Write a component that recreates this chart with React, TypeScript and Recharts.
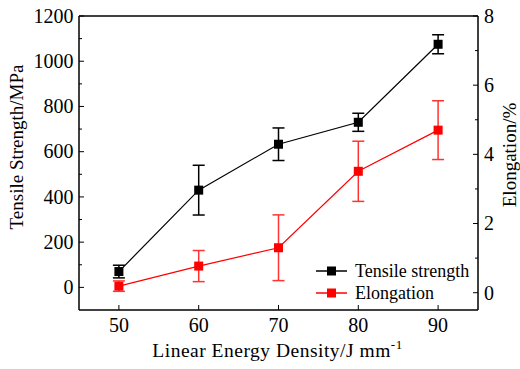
import React from 'react';
import { LineChart, Line, XAxis, YAxis, ErrorBar, ReferenceLine, Legend, Label } from 'recharts';

const energyDensity = [50, 60, 70, 80, 90];
const tensileStrength = [70, 430, 633, 730, 1075];
const tensileError = [28, 110, 72, 40, 42];
const elongation = [0.19, 0.77, 1.3, 3.51, 4.7];
const elongationError = [0.15, 0.45, 0.95, 0.87, 0.85];

const xTicks = [50, 60, 70, 80, 90];
const leftTicks = [0, 100, 200, 300, 400, 500, 600, 700, 800, 900, 1000, 1100, 1200];
const rightTicks = [0, 1, 2, 3, 4, 5, 6, 7, 8];

const data = energyDensity.map((x, i) => ({
  x,
  ts: tensileStrength[i],
  tsErr: tensileError[i],
  el: elongation[i],
  elErr: elongationError[i],
}));

const FONT = '"Liberation Serif", "Times New Roman", serif';
const RED = '#ff0000';
const RED_ERR = '#ff3333';

const LEFT_MARGIN = 6;
const RIGHT_MARGIN = 6;

const LeftTick = (props: any) => {
  const { x, y, payload } = props;
  const v = payload.value;
  const major = v % 200 === 0;
  const ax = x + LEFT_MARGIN;
  return (
    <g>
      <line x1={ax} x2={ax + (major ? 5 : 3)} y1={y} y2={y} stroke="#000" strokeWidth={1} />
      {major && (
        <text x={x + 0.5} y={y} dy="0.34em" textAnchor="end" style={{ fontFamily: FONT, fontSize: 20 }} fill="#000">
          {v}
        </text>
      )}
    </g>
  );
};

const RightTick = (props: any) => {
  const { x, y, payload } = props;
  const v = payload.value;
  const major = v % 2 === 0;
  const ax = x - RIGHT_MARGIN;
  return (
    <g>
      <line x1={ax} x2={ax - (major ? 5 : 3)} y1={y} y2={y} stroke="#000" strokeWidth={1} />
      {major && (
        <text x={x} y={y} dy="0.34em" textAnchor="start" style={{ fontFamily: FONT, fontSize: 20 }} fill="#000">
          {v}
        </text>
      )}
    </g>
  );
};

const BottomTick = (props: any) => {
  const { x, y, payload } = props;
  return (
    <g>
      <line x1={x} x2={x} y1={y} y2={y - 5} stroke="#000" strokeWidth={1} />
      <text x={x} y={y + 22} textAnchor="middle" style={{ fontFamily: FONT, fontSize: 20 }} fill="#000">
        {payload.value}
      </text>
    </g>
  );
};

const SquareDot = (color: string) => (props: any) => {
  const { cx, cy, index } = props;
  if (cx == null || cy == null) return <g key={index} />;
  return <rect key={index} x={cx - 4.5} y={cy - 4.5} width={9} height={9} fill={color} />;
};

const LegendContent = () => {
  const items = [
    { name: 'Tensile strength', color: '#000' },
    { name: 'Elongation', color: RED },
  ];
  return (
    <div style={{ fontFamily: FONT, fontSize: 18, color: '#000' }}>
      {items.map((it) => (
        <div key={it.name} style={{ display: 'flex', alignItems: 'center', height: 22 }}>
          <svg width={41} height={22} style={{ display: 'block' }}>
            <line x1={2} x2={33} y1={11} y2={11} stroke={it.color} strokeWidth={1.5} />
            <rect x={13} y={6.5} width={9} height={9} fill={it.color} />
          </svg>
          <span style={{ lineHeight: '22px', whiteSpace: 'nowrap' }}>{it.name}</span>
        </div>
      ))}
    </div>
  );
};

export default function App() {
  return (
    <div style={{ position: 'absolute', left: 0, top: 0, background: '#fff' }}>
      <LineChart width={520} height={369} data={data} margin={{ top: 16, right: 0, left: 0, bottom: 0 }}>
        <XAxis
          dataKey="x"
          type="number"
          domain={[45, 95]}
          ticks={xTicks}
          interval={0}
          height={59}
          tickSize={0}
          tickMargin={0}
          tickLine={false}
          axisLine={{ stroke: '#000', strokeWidth: 1.5 }}
          tick={<BottomTick />}
        >
          <Label
            content={(p: any) => {
              const vb = p.viewBox || { x: 79, y: 310, width: 399, height: 59 };
              return (
                <text
                  x={vb.x + vb.width / 2 - 1}
                  y={vb.y + 47}
                  textAnchor="middle"
                  style={{ fontFamily: FONT, fontSize: 19.5, letterSpacing: 0.5 }}
                  fill="#000"
                >
                  Linear Energy Density/J mm
                  <tspan style={{ fontSize: 13 }} dy={-8}>-1</tspan>
                </text>
              );
            }}
          />
        </XAxis>
        <YAxis
          yAxisId="left"
          orientation="left"
          type="number"
          domain={[-100, 1200]}
          ticks={leftTicks}
          interval={0}
          width={79}
          tickSize={0}
          tickMargin={LEFT_MARGIN}
          tickLine={false}
          axisLine={{ stroke: '#000', strokeWidth: 1.5 }}
          tick={<LeftTick />}
        >
          <Label
            content={(p: any) => {
              const vb = p.viewBox || { x: 0, y: 16, width: 79, height: 294 };
              const cx = vb.x + 23;
              const cy = vb.y + 131;
              return (
                <text
                  x={cx}
                  y={cy}
                  transform={`rotate(-90 ${cx} ${cy})`}
                  textAnchor="middle"
                  style={{ fontFamily: FONT, fontSize: 19 }}
                  fill="#000"
                >
                  Tensile Strength/MPa
                </text>
              );
            }}
          />
        </YAxis>
        <YAxis
          yAxisId="right"
          orientation="right"
          type="number"
          domain={[-0.5, 8]}
          ticks={rightTicks}
          interval={0}
          width={42}
          tickSize={0}
          tickMargin={RIGHT_MARGIN}
          tickLine={false}
          axisLine={{ stroke: '#000', strokeWidth: 1.5 }}
          tick={<RightTick />}
        >
          <Label
            content={(p: any) => {
              const vb = p.viewBox || { x: 478, y: 16, width: 42, height: 294 };
              const cx = vb.x + 38;
              const cy = vb.y + 139;
              return (
                <text
                  x={cx}
                  y={cy}
                  transform={`rotate(-90 ${cx} ${cy})`}
                  textAnchor="middle"
                  style={{ fontFamily: FONT, fontSize: 19 }}
                  fill="#000"
                >
                  Elongation/%
                </text>
              );
            }}
          />
        </YAxis>
        <ReferenceLine yAxisId="left" y={1200} stroke="#000" strokeWidth={1.5} />
        <Legend
          layout="vertical"
          align="center"
          verticalAlign="middle"
          wrapperStyle={{ left: 314, top: 260, width: 170 }}
          content={<LegendContent />}
        />
        <Line
          yAxisId="left"
          dataKey="ts"
          name="Tensile strength"
          stroke="#000"
          strokeWidth={1.2}
          dot={SquareDot('#000')}
          activeDot={false}
          isAnimationActive={false}
        >
          <ErrorBar dataKey="tsErr" direction="y" width={6} stroke="#000" strokeWidth={1.5} />
        </Line>
        <Line
          yAxisId="right"
          dataKey="el"
          name="Elongation"
          stroke={RED}
          strokeWidth={1.2}
          dot={SquareDot(RED)}
          activeDot={false}
          isAnimationActive={false}
        >
          <ErrorBar dataKey="elErr" direction="y" width={6} stroke={RED_ERR} strokeWidth={1.5} />
        </Line>
      </LineChart>
    </div>
  );
}
